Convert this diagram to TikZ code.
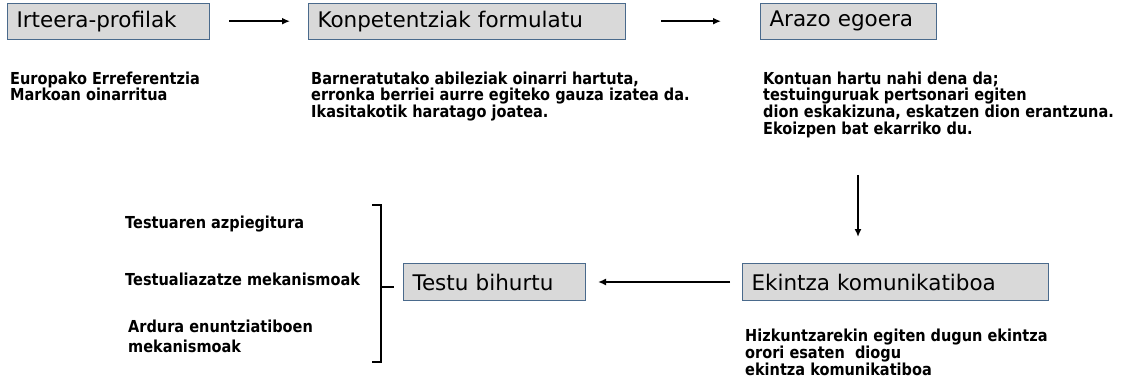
\documentclass[tikz,border=0pt]{standalone}
\usepackage{fontspec}
\usetikzlibrary{arrows.meta}
\newfontfamily\boxfontfam{DejaVu Sans}
\newfontfamily\bodyfontfam[FakeStretch=0.88]{DejaVu Sans}
\definecolor{boxgray}{HTML}{D9D9D9}
\definecolor{boxedge}{HTML}{4A6A8C}
\tikzset{
  box/.style={draw=boxedge, fill=boxgray, line width=1pt, anchor=north west,
    font=\boxfontfam\fontsize{21.5}{24}\selectfont, inner xsep=9pt, inner ysep=0pt, align=left},
  body/.style={anchor=north west, inner sep=0pt, align=left,
    font=\bodyfontfam\bfseries\fontsize{16.5}{16.7}\selectfont},
  arr/.style={line width=2.3pt, -{Latex[length=8pt,width=7pt]}},
  brk/.style={line width=1.8pt}
}
\begin{document}
\begin{tikzpicture}[x=1pt,y=-1pt]
\useasboundingbox (0,0) rectangle (1125,385);
% boxes
\node[box, text width=184pt, minimum height=36pt] (b1) at (7,2.7) {Irteera-profilak};
\node[box, text width=299pt, minimum height=36pt] (b2) at (308,2.7) {Konpetentziak formulatu};
\node[box, text width=158pt, minimum height=36pt] (b3) at (760,2.7) {Arazo egoera};
\node[box, text width=288pt, minimum height=37pt] (b4) at (742,263) {Ekintza komunikatiboa};
\node[box, text width=164pt, minimum height=37pt] (b5) at (403,263) {Testu bihurtu};
% body texts
\node[body] (t1) at (10,71.5) {Europako Erreferentzia\\Markoan oinarritua};
\node[body] (t2) at (311,71.5) {Barneratutako abileziak oinarri hartuta,\\erronka berriei aurre egiteko gauza izatea da.\\Ikasitakotik haratago joatea.};
\node[body] (t3) at (763,71.5) {Kontuan hartu nahi dena da;\\testuinguruak pertsonari egiten\\dion eskakizuna, eskatzen dion erantzuna.\\Ekoizpen bat ekarriko du.};
\node[body, font=\bodyfontfam\bfseries\fontsize{16.5}{15.5}\selectfont] (t4) at (745,329) {Hizkuntzarekin egiten dugun ekintza\\orori esaten\ \ diogu\\ekintza komunikatiboa};
\node[body] (l1) at (125,215.5) {Testuaren azpiegitura};
\node[body] (l2) at (125,272.5) {Testualiazatze mekanismoak};
\node[body, font=\bodyfontfam\bfseries\fontsize{16.5}{20}\selectfont] (l3) at (128,319.5) {Ardura enuntziatiboen\\mekanismoak};
% arrows
\draw[arr, shorten <=19pt, shorten >=18pt] (b1.east) -- (b2.west);
\draw[arr, shorten <=35pt, shorten >=39pt] (b2.east) -- (b3.west);
\coordinate (d1) at (858,175);
\draw[arr, shorten >=26pt] (d1) -- (d1 |- b4.north);
\draw[arr, shorten <=12pt, shorten >=12pt] (b4.west) -- (b5.east);
% bracket
\coordinate (bt) at (381,205);
\coordinate (bb) at (381,362);
\coordinate (bm) at (381,287);
\draw[brk] ([xshift=-9pt]bt) -- (bt) -- (bb) -- ([xshift=-9pt]bb);
\draw[brk] (bm) -- ([xshift=13pt]bm);
\end{tikzpicture}
\end{document}
